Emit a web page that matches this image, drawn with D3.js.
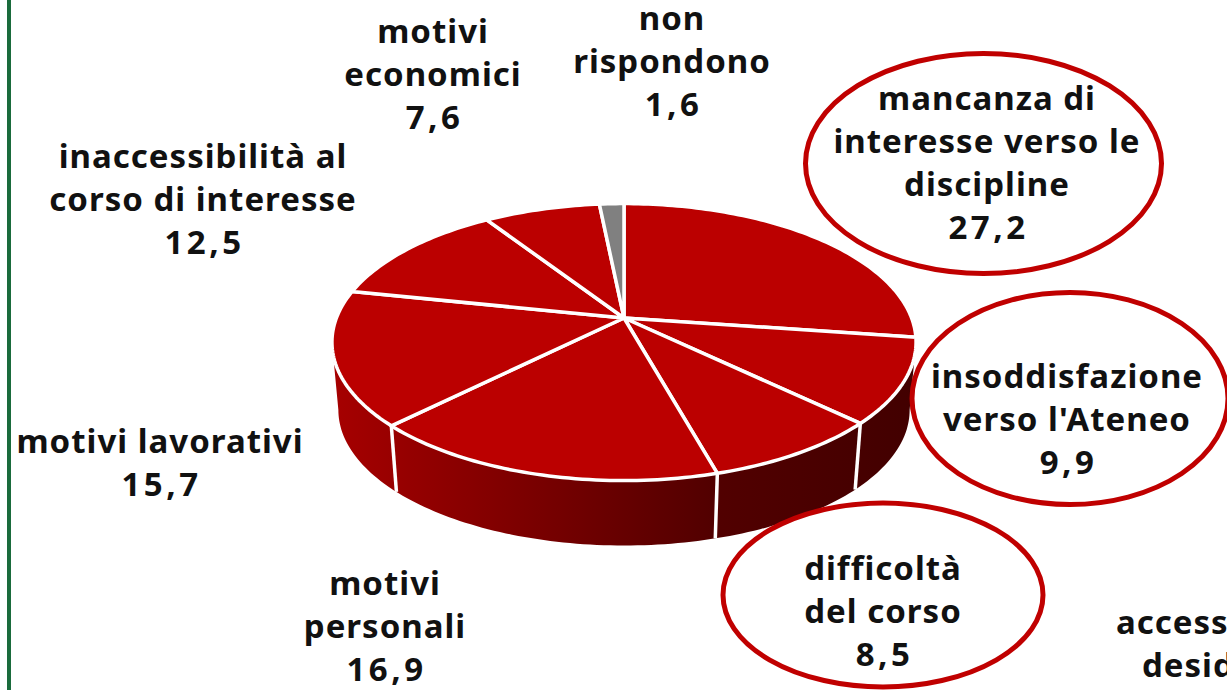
<!DOCTYPE html>
<html>
<head>
<meta charset="utf-8">
<script src="https://cdn.jsdelivr.net/npm/d3@7"></script>
<style>
  html, body { margin: 0; padding: 0; background: #fff; overflow: hidden; }
  text { font-family: "Noto Sans", sans-serif; font-weight: 700; fill: #111; letter-spacing: 1px; }
</style>
</head>
<body>
<script>
const categories = ['mancanza di|interesse verso le|discipline', "insoddisfazione|verso l'Ateneo", 'difficoltà|del corso', 'motivi|personali', 'motivi lavorativi', 'inaccessibilità al|corso di interesse', 'motivi|economici', 'non|rispondono'];
const values = [27.2, 9.9, 8.5, 16.9, 15.7, 12.5, 7.6, 1.6];
const sliceColors = ['#bb0000', '#bb0000', '#bb0000', '#bb0000', '#bb0000', '#bb0000', '#bb0000', '#808080'];
const labelX = [987, 1067, 883, 385, 160, 203, 433, 672];
const labelY = [110, 388, 580, 595, 453, 168, 43, 30];

const width = 1227;
const height = 690;

// ovals behind the three highlighted labels
const ovals = [[983.5, 163.5, 178, 110], [1070, 398.5, 158, 106], [883, 595, 160, 92]];

const svg = d3.select('body').append('svg').attr('width', width).attr('height', height);

//green bar on the left
svg.append('rect').attr('x', 7).attr('y', 0).attr('width', 4).attr('height', height).attr('fill', '#1a6b3c');

//pie angles
const pie = d3.pie().value(d => d).sort(null);
const arcs = pie(values);

// perspective projection of the disc, k makes the near side bigger
const cx = 624, cy = 318, rx = 287.6, ry = 134.3, k = 0.174;
const shrink = 0.978, drop = 68.5;
const wallStart = 100 * Math.PI / 180, wallEnd = 260 * Math.PI / 180;

function project(a) {
  const X = Math.sin(a), Y = -Math.cos(a), w = 1 - k * Y;
  return [cx + rx * X / w, cy + ry * Y / w];
}
function projectBottom(a) {
  const p = project(a);
  return [cx + shrink * (p[0] - cx), cy + drop + shrink * (p[1] - cy)];
}
function sample(a0, a1) {
  const n = Math.max(2, Math.ceil((a1 - a0) / 0.02));
  return d3.range(n + 1).map(i => a0 + (a1 - a0) * i / n);
}
const line = d3.line().curve(d3.curveLinear);

//side wall gradient
const grad = svg.append('defs').append('linearGradient')
  .attr('id', 'wall').attr('gradientUnits', 'userSpaceOnUse')
  .attr('x1', 333).attr('x2', 915).attr('y1', 0).attr('y2', 0);
grad.append('stop').attr('offset', '0%').attr('stop-color', '#a60000');
grad.append('stop').attr('offset', '65%').attr('stop-color', '#520000');
grad.append('stop').attr('offset', '100%').attr('stop-color', '#420000');

//side wall facing the viewer
const wallAngles = sample(wallStart, wallEnd);
svg.append('path')
  .attr('d', line(wallAngles.map(project).concat(wallAngles.slice().reverse().map(projectBottom))) + 'Z')
  .attr('fill', 'url(#wall)');

//white cuts in the wall
svg.selectAll('line.cut')
  .data(arcs.filter(d => d.endAngle > wallStart && d.endAngle < wallEnd))
  .enter()
  .append('line')
  .attr('class', 'cut')
  .attr('x1', d => project(d.endAngle)[0])
  .attr('y1', d => project(d.endAngle)[1])
  .attr('x2', d => projectBottom(d.endAngle)[0])
  .attr('y2', d => projectBottom(d.endAngle)[1])
  .attr('stroke', '#fff')
  .attr('stroke-width', 3.5);

//top face
svg.selectAll('path.slice')
  .data(arcs)
  .enter()
  .append('path')
  .attr('class', 'slice')
  .attr('d', d => line([[cx, cy]].concat(sample(d.startAngle, d.endAngle).map(project))) + 'Z')
  .attr('fill', (d, i) => sliceColors[i])
  .attr('stroke', '#fff')
  .attr('stroke-width', 3.5)
  .attr('stroke-linejoin', 'round');

//ovals
svg.selectAll('ellipse')
  .data(ovals)
  .enter()
  .append('ellipse')
  .attr('cx', d => d[0])
  .attr('cy', d => d[1])
  .attr('rx', d => d[2])
  .attr('ry', d => d[3])
  .attr('fill', '#fff')
  .attr('stroke', '#c00000')
  .attr('stroke-width', 5);

//labels
categories.forEach((c, i) => {
  const lines = c.split('|');
  const t = svg.append('text')
    .attr('text-anchor', 'middle')
    .attr('font-size', 33);
  lines.forEach((l, j) => {
    t.append('tspan').attr('x', labelX[i]).attr('y', labelY[i] + j * 43).text(l);
  });
  t.append('tspan')
    .attr('x', labelX[i] + 1.5)
    .attr('y', labelY[i] + lines.length * 43)
    .style('letter-spacing', '3.5px')
    .text(String(values[i]).replace('.', ','));
});

//label cut by the right edge of the slide
const cutLabel = svg.append('text').attr('font-size', 33);
cutLabel.append('tspan').attr('x', 1116).attr('y', 634).text('accesso');
cutLabel.append('tspan').attr('x', 1142).attr('y', 677).text('desiderato');
</script>
</body>
</html>
